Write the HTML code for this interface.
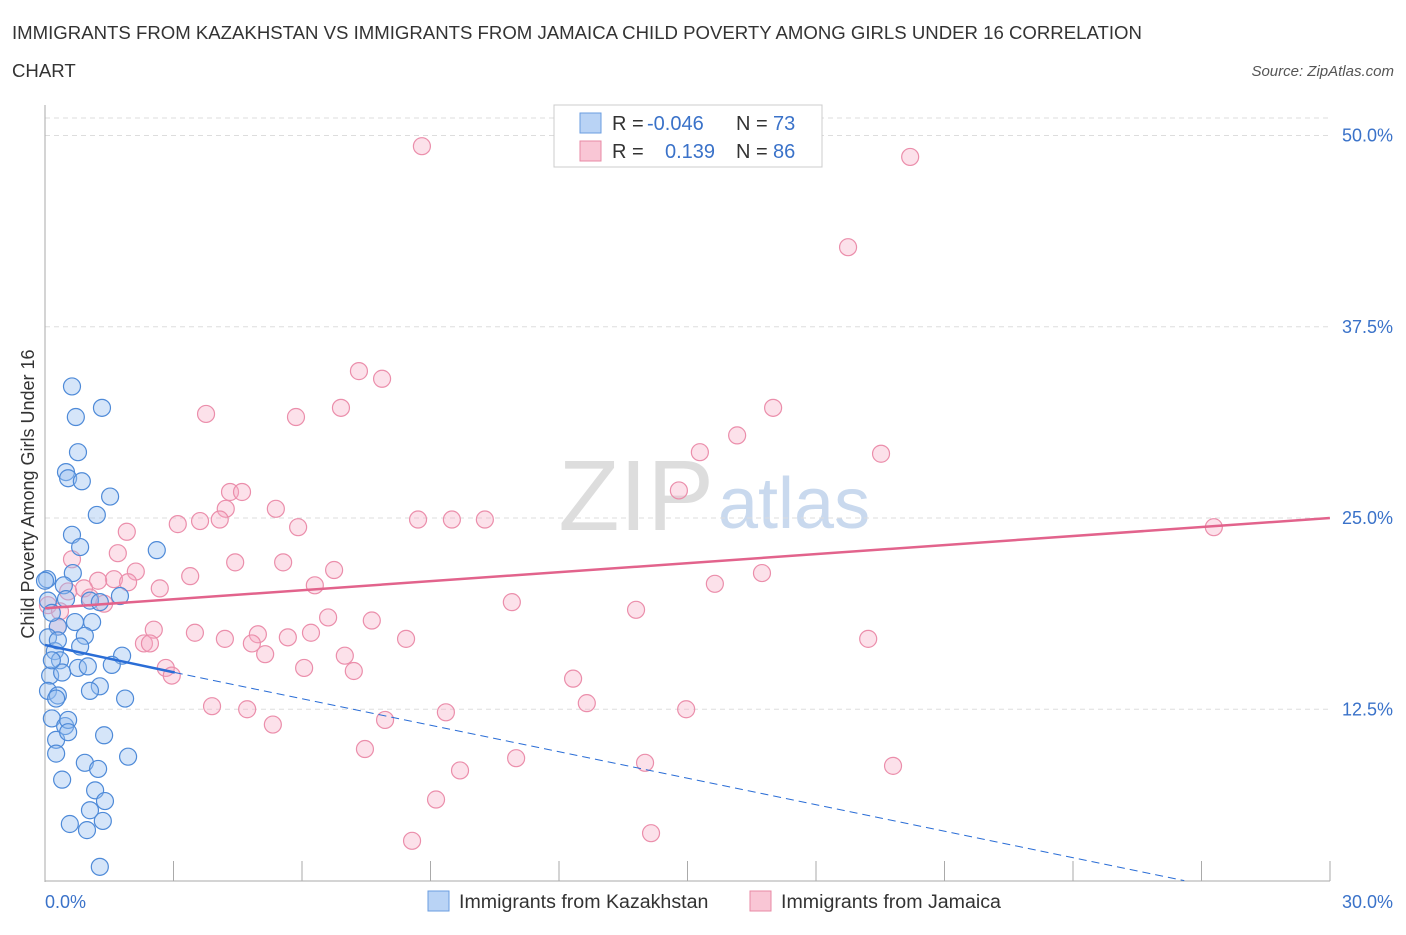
<!DOCTYPE html>
<html><head><meta charset="utf-8"><style>
body{margin:0;background:#fff;font-family:"Liberation Sans",sans-serif}
svg text{font-family:"Liberation Sans",sans-serif}
</style></head><body>
<svg id="chart" width="1406" height="930">
<text x="12" y="39" font-size="18.6" fill="#333">IMMIGRANTS FROM KAZAKHSTAN VS IMMIGRANTS FROM JAMAICA CHILD POVERTY AMONG GIRLS UNDER 16 CORRELATION</text>
<text x="12" y="77" font-size="18.6" fill="#333">CHART</text>
<text x="1394" y="76" font-size="15" fill="#555" font-style="italic" text-anchor="end">Source: ZipAtlas.com</text>
<text x="714" y="530" font-size="100" fill="#ddd" text-anchor="end" font-family="Liberation Serif">ZIP</text>
<text x="718" y="528" font-size="72" fill="#c9d9ee">atlas</text>
<g id="grid"></g><g id="pts"></g><g id="lines"></g>
<text transform="translate(34,494) rotate(-90)" font-size="18" fill="#333" text-anchor="middle">Child Poverty Among Girls Under 16</text>
<rect x="554" y="105" width="268" height="62" fill="#fff" stroke="#ccc"/>
<rect x="580" y="113" width="21" height="20" fill="#b9d3f5" stroke="#6a9de0"/>
<rect x="580" y="141" width="21" height="20" fill="#f9c6d5" stroke="#e88aa5"/>
<text x="612" y="130" font-size="20" fill="#333">R = <tspan fill="#3a72c9" x="647">-0.046</tspan></text>
<text x="736" y="130" font-size="20" fill="#333">N = <tspan fill="#3a72c9" x="773">73</tspan></text>
<text x="612" y="158" font-size="20" fill="#333">R = <tspan fill="#3a72c9" x="665">0.139</tspan></text>
<text x="736" y="158" font-size="20" fill="#333">N = <tspan fill="#3a72c9" x="773">86</tspan></text>
<rect x="428" y="891" width="21" height="20" fill="#b9d3f5" stroke="#6a9de0"/>
<text x="459" y="908" font-size="19.6" fill="#333">Immigrants from Kazakhstan</text>
<rect x="750" y="891" width="21" height="20" fill="#f9c6d5" stroke="#e88aa5"/>
<text x="781" y="908" font-size="19.6" fill="#333">Immigrants from Jamaica</text>
</svg>
<script>
const yTicks=[12.5,25,37.5,50];
const yTickLabels=["12.5%","25.0%","37.5%","50.0%"];
const xTickLabels=["0.0%","30.0%"];
const kazX=[0.63,1.33,0.72,0.77,0.49,0.54,0.86,1.52,1.21,0.63,0.82,2.61,0.05,0.65,0.44,0.49,1.05,1.28,1.75,0.70,1.10,0.93,0.30,0.07,0.23,0.82,0.35,1.80,1.56,0.77,1.00,0.12,0.40,0.07,0.30,1.28,1.05,0.26,1.87,0.16,0.47,0.54,0.26,0.54,1.38,0.26,1.94,0.93,1.24,0.40,1.17,1.05,1.40,1.35,0.58,0.98,1.28,0.07,0.16,0.0,0.16,0.30];
const kazY=[33.6,32.2,31.6,29.3,28.0,27.6,27.4,26.4,25.2,23.9,23.1,22.9,21.0,21.4,20.6,19.7,19.6,19.5,19.9,18.2,18.2,17.3,17.9,17.2,16.3,16.6,15.7,16.0,15.4,15.2,15.3,14.7,14.9,13.7,13.4,14.0,13.7,13.2,13.2,11.9,11.4,11.8,10.5,11.0,10.8,9.6,9.4,9.0,8.6,7.9,7.2,5.9,6.5,5.2,5.0,4.6,2.2,19.6,18.8,20.9,15.7,17.0];
const jamX=[8.80,20.2,18.75,7.33,7.87,3.76,5.86,6.91,17.0,16.16,15.29,19.52,14.80,4.32,4.60,5.39,4.22,10.27,4.08,1.91,8.71,9.50,3.10,3.62,5.91,27.29,0.63,1.70,4.44,5.56,2.12,6.75,3.39,1.61,16.74,1.24,1.94,0.91,6.30,15.64,2.68,0.54,1.05,1.38,10.90,13.80,0.07,0.35,6.61,7.63,0.30,2.54,3.50,4.97,8.43,4.20,5.67,6.21,19.22,4.83,2.31,2.45,5.14,7.00,6.05,7.21,2.82,2.96,12.33,3.90,4.72,12.65,14.97,9.36,7.94,5.32,7.47,14.01,11.00,9.69,19.80,9.13,14.15,8.57];
const jamY=[49.3,48.6,42.7,34.6,34.1,31.8,31.6,32.2,32.2,30.4,29.3,29.2,26.8,26.7,26.7,25.6,25.6,24.9,24.9,24.1,24.9,24.9,24.6,24.8,24.4,24.4,22.3,22.7,22.1,22.1,21.5,21.6,21.2,21.0,21.4,20.9,20.8,20.4,20.6,20.7,20.4,20.2,19.8,19.4,19.5,19.0,19.3,18.9,18.5,18.3,17.9,17.7,17.5,17.4,17.1,17.1,17.2,17.5,17.1,16.8,16.8,16.8,16.1,16.0,15.2,15.0,15.2,14.7,14.5,12.7,12.5,12.9,12.5,12.3,11.8,11.5,9.9,9.0,9.3,8.5,8.8,6.6,4.4,3.9];
const kazTrend=[16.7,14.9,1.3];
const kazTrendX=[0,3.03,26.6];
const jamTrend=[19.1,25.0];
const jamTrendX=[0,30];
const NS="http://www.w3.org/2000/svg";
const xS=v=>45+v*42.83, yS=v=>900.5-v*15.3;
function mk(tag,attrs,parent){const e=document.createElementNS(NS,tag);for(const k in attrs)e.setAttribute(k,attrs[k]);parent.appendChild(e);return e;}
const gridG=document.getElementById('grid'),ptsG=document.getElementById('pts'),linesG=document.getElementById('lines');
yTicks.forEach((t,i)=>{
 const l=mk('line',{x1:45,x2:1330,y1:yS(t),y2:yS(t),stroke:'#ddd','stroke-dasharray':'5,4'},gridG);
 
 
 const tx=mk('text',{x:1393,y:yS(t)+6,'font-size':18,fill:'#3a72c9','text-anchor':'end'},gridG);
 tx.textContent=yTickLabels[i];
 
 
});
const topGrid=mk('line',{x1:45,x2:1330,y1:118,y2:118,stroke:'#ddd','stroke-dasharray':'5,4'},gridG);


const yAxisLine=mk('line',{x1:45,x2:45,y1:105,y2:882,stroke:'#aaa'},gridG);


const xAxisLine=mk('line',{x1:45,x2:1330,y1:881,y2:881,stroke:'#aaa'},gridG);


for(let i=1;i<=10;i++){const x=45+i*128.5;const t=mk('line',{x1:x,x2:x,y1:861,y2:881,stroke:'#aaa'},gridG);
 
 }
[[0,'start',45],[1,'end',1393]].forEach(([i,a,x])=>{const t=mk('text',{x:x,y:908,'font-size':18,fill:'#3a72c9','text-anchor':a},gridG);t.textContent=xTickLabels[i];
 
 });
jamX.forEach((v,i)=>{const c=mk('circle',{cx:xS(v),cy:yS(jamY[i]),r:8.5,fill:'rgba(246,170,195,0.35)',stroke:'#eb8eab','stroke-width':1.2},ptsG);
 
 });
kazX.forEach((v,i)=>{const c=mk('circle',{cx:xS(v),cy:yS(kazY[i]),r:8.5,fill:'rgba(150,190,240,0.4)',stroke:'#4e8ad8','stroke-width':1.2},ptsG);
 
 });
const k1=mk('line',{x1:xS(kazTrendX[0]),y1:yS(kazTrend[0]),x2:xS(kazTrendX[1]),y2:yS(kazTrend[1]),stroke:'#2a6dd6','stroke-width':2.5},linesG);


const k2=mk('line',{x1:xS(kazTrendX[1]),y1:yS(kazTrend[1]),x2:xS(kazTrendX[2]),y2:yS(kazTrend[2]),stroke:'#2a6dd6','stroke-width':1,'stroke-dasharray':'8,5'},linesG);


const j1=mk('line',{x1:xS(jamTrendX[0]),y1:yS(jamTrend[0]),x2:xS(jamTrendX[1]),y2:yS(jamTrend[1]),stroke:'#e2638c','stroke-width':2.5},linesG);


</script>
</body></html>
